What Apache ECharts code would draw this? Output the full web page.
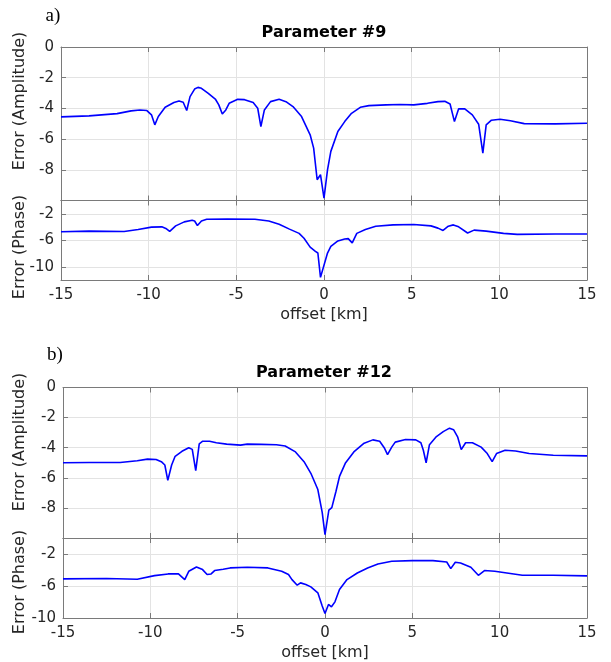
<!DOCTYPE html>
<html>
<head>
<meta charset="utf-8">
<script src="https://cdn.jsdelivr.net/npm/echarts@6/dist/echarts.min.js"></script>
<style>html,body{margin:0;padding:0;background:#fff}#c{width:611px;height:662px}</style>
</head>
<body>
<div id="c"></div>
<script>
// ---- data (offset km, error) ----
const xTicks = [-15, -10, -5, 0, 5, 10, 15];
const ampTicks = [0, -2, -4, -6, -8];
const phaseTicks = [-2, -6, -10];

const aAmpX = [-15,-13.4,-11.8,-11.0,-10.5,-10.1,-9.84,-9.65,-9.45,-9.06,-8.56,-8.27,-8.03,-7.83,-7.64,-7.38,-7.19,-6.99,-6.6,-6.2,-6.0,-5.8,-5.6,-5.41,-4.92,-4.53,-4.04,-3.78,-3.6,-3.4,-3.05,-2.56,-2.17,-1.77,-1.28,-0.79,-0.59,-0.39,-0.2,0,0.2,0.39,0.79,1.18,1.57,2.07,2.56,3.54,4.33,5.12,5.9,6.5,6.89,7.19,7.44,7.68,8.03,8.46,8.82,9.06,9.25,9.55,10.04,10.63,11.42,13.19,15];
const aAmpY = [-4.55,-4.49,-4.34,-4.16,-4.10,-4.14,-4.42,-5.07,-4.53,-3.93,-3.62,-3.52,-3.60,-4.14,-3.23,-2.74,-2.63,-2.69,-3.02,-3.39,-3.77,-4.36,-4.10,-3.67,-3.41,-3.43,-3.62,-3.99,-5.18,-4.10,-3.56,-3.41,-3.56,-3.88,-4.53,-5.72,-6.59,-8.65,-8.32,-9.84,-8.0,-6.8,-5.5,-4.86,-4.32,-3.93,-3.82,-3.77,-3.75,-3.77,-3.67,-3.56,-3.54,-3.71,-4.86,-4.03,-4.03,-4.42,-5.03,-6.91,-5.07,-4.77,-4.71,-4.81,-4.99,-5.01,-4.97];

const aPhaseX = [-15,-13.4,-11.4,-10.6,-9.84,-9.25,-9.02,-8.8,-8.46,-7.97,-7.52,-7.38,-7.22,-6.99,-6.69,-5.51,-3.94,-3.15,-2.56,-1.97,-1.42,-1.14,-0.79,-0.49,-0.35,-0.2,0.2,0.39,0.79,1.18,1.38,1.61,1.87,2.36,2.95,3.94,5.12,6.1,6.5,6.79,7.09,7.38,7.68,8.19,8.56,9.25,10.24,11.02,13.19,15];
const aPhaseY = [-4.72,-4.62,-4.67,-4.37,-4.02,-3.98,-4.22,-4.67,-3.83,-3.23,-2.99,-3.09,-3.78,-3.09,-2.84,-2.79,-2.84,-3.09,-3.58,-4.32,-4.96,-5.7,-7.04,-7.68,-7.93,-11.6,-7.93,-6.94,-6.1,-5.8,-5.75,-6.4,-4.96,-4.37,-3.88,-3.68,-3.63,-3.83,-4.17,-4.52,-3.88,-3.68,-3.98,-4.91,-4.47,-4.62,-4.96,-5.11,-5.06,-5.06];

const bAmpX = [-15,-13.5,-11.73,-10.75,-10.16,-9.67,-9.37,-9.17,-9.0,-8.78,-8.58,-8.19,-7.8,-7.6,-7.4,-7.2,-7.0,-6.61,-6.22,-5.63,-4.84,-4.45,-3.66,-2.78,-2.28,-1.69,-1.2,-0.81,-0.41,-0.16,0,0.22,0.39,0.63,0.83,1.16,1.65,2.24,2.74,3.13,3.39,3.58,3.82,4.02,4.61,5.2,5.49,5.63,5.79,5.98,6.38,6.77,7.13,7.36,7.6,7.8,8.05,8.44,8.94,9.29,9.57,9.82,10.31,10.91,11.69,13.07,15];
const bAmpY = [-5.0,-4.98,-4.98,-4.87,-4.76,-4.78,-4.93,-5.15,-6.17,-5.15,-4.57,-4.24,-4.0,-4.11,-5.52,-3.74,-3.57,-3.57,-3.67,-3.76,-3.83,-3.76,-3.78,-3.8,-3.89,-4.28,-4.93,-5.7,-6.78,-8.3,-9.78,-8.15,-7.98,-6.89,-5.91,-5.04,-4.28,-3.7,-3.48,-3.57,-4.0,-4.46,-3.96,-3.63,-3.46,-3.48,-3.67,-4.17,-5.0,-3.8,-3.26,-2.93,-2.7,-2.8,-3.3,-4.13,-3.67,-3.67,-3.96,-4.39,-4.93,-4.39,-4.17,-4.22,-4.39,-4.5,-4.54];

const bPhaseX = [-15,-12.5,-10.75,-9.76,-8.98,-8.39,-8.03,-7.8,-7.36,-7.01,-6.75,-6.52,-6.32,-5.83,-5.43,-4.45,-3.27,-2.48,-2.09,-1.89,-1.59,-1.4,-1.1,-0.81,-0.41,-0.16,0,0.2,0.37,0.57,0.83,1.26,1.85,2.44,3.03,3.82,5.0,6.18,6.97,7.2,7.46,7.76,8.35,8.78,9.13,9.72,10.51,11.3,13.07,15];
const bPhaseY = [-5.11,-5.07,-5.15,-4.7,-4.49,-4.49,-5.2,-4.16,-3.62,-3.95,-4.57,-4.49,-4.07,-3.91,-3.74,-3.66,-3.74,-4.16,-4.57,-5.2,-5.9,-5.61,-5.82,-6.11,-6.85,-8.51,-9.43,-8.31,-8.6,-7.98,-6.44,-5.2,-4.37,-3.74,-3.24,-2.91,-2.83,-2.83,-3.0,-3.83,-3.04,-3.12,-3.66,-4.66,-4.07,-4.16,-4.41,-4.66,-4.66,-4.74];

// ---- layout ----
const FONT = 'DejaVu Sans';
const panels = [
  {left: 61, top: 47,    height: 153.5, xs: aAmpX,   ys: aAmpY,   min: -10, max: 0, kind: 'amp'},
  {left: 61, top: 200.5, height: 79.5,  xs: aPhaseX, ys: aPhaseY, min: -12, max: 0, kind: 'phase'},
  {left: 63, top: 387.5, height: 150.5, xs: bAmpX,   ys: bAmpY,   min: -10, max: 0, kind: 'amp'},
  {left: 63, top: 538,   height: 80.5,  xs: bPhaseX, ys: bPhaseY, min: -10, max: 0, kind: 'phase'}
];
const axisColor = '#7a7a7a';
const gridColor = '#e3e3e3';
const labelColor = '#262626';

const grid = [], xAxis = [], yAxis = [], series = [];
panels.forEach((p, i) => {
  grid.push({left: p.left, right: 24, top: p.top, height: p.height});
  const showX = p.kind === 'phase';
  xAxis.push({
    type: 'value', gridIndex: i, position: 'bottom', min: -15, max: 15, interval: 5,
    axisLine: {show: true, onZero: false, lineStyle: {color: axisColor, width: 1}},
    axisTick: {show: true, inside: true, length: 5, lineStyle: {color: axisColor}},
    axisLabel: {show: showX, color: labelColor, fontFamily: FONT, fontSize: 15, margin: 8,
                formatter: v => String(v)},
    splitLine: {show: true, lineStyle: {color: gridColor, width: 1}},
    name: showX ? 'offset [km]' : '', nameLocation: 'middle', nameGap: 27,
    nameTextStyle: {color: labelColor, fontFamily: FONT, fontSize: 16}
  });
  xAxis.push({
    type: 'value', gridIndex: i, position: 'top', min: -15, max: 15, interval: 5,
    axisLine: {show: true, onZero: false, lineStyle: {color: axisColor, width: 1}},
    axisTick: {show: true, inside: true, length: 5, lineStyle: {color: axisColor}},
    axisLabel: {show: false}, splitLine: {show: false}
  });
  const ticks = p.kind === 'amp' ? null : phaseTicks;
  const yMain = {
    type: 'value', gridIndex: i, position: 'left', min: p.min, max: p.max,
    axisLine: {show: true, onZero: false, lineStyle: {color: axisColor, width: 1}},
    axisTick: {show: true, inside: true, length: 5, lineStyle: {color: axisColor}},
    axisLabel: {show: true, color: labelColor, fontFamily: FONT, fontSize: 15, margin: 7},
    splitLine: {show: true, lineStyle: {color: gridColor, width: 1}}
  };
  const ySide = {
    type: 'value', gridIndex: i, position: 'right', min: p.min, max: p.max,
    axisLine: {show: true, onZero: false, lineStyle: {color: axisColor, width: 1}},
    axisTick: {show: true, inside: true, length: 5, lineStyle: {color: axisColor}},
    axisLabel: {show: false}, splitLine: {show: false}
  };
  if (ticks) {
    yMain.axisTick.customValues = ticks;
    yMain.axisLabel.customValues = ticks;
    ySide.axisTick.customValues = ticks;
  } else {
    yMain.interval = 2;
    ySide.interval = 2;
    yMain.axisLabel.showMinLabel = false;
  }
  yAxis.push(yMain, ySide);
  series.push({
    type: 'line', xAxisIndex: 2 * i, yAxisIndex: 2 * i,
    data: p.xs.map((x, k) => [x, p.ys[k]]),
    showSymbol: false, symbol: 'none', smooth: false,
    lineStyle: {color: '#0000ff', width: 1.6}, color: '#0000ff',
    animation: false, clip: true
  });
});

const txt = (x, y, text, font, fill, extra) => Object.assign({
  type: 'text', x: x, y: y,
  style: {text: text, font: font, fill: fill, align: 'center', verticalAlign: 'middle'}
}, extra || {});
const rot = {rotation: Math.PI / 2};

const graphic = [
  txt(53, 16, 'a)', '19px "Liberation Serif"', '#000'),
  txt(55, 355, 'b)', '19px "Liberation Serif"', '#000'),
  txt(324, 33, 'Parameter #9', 'bold 16px "DejaVu Sans"', '#000'),
  txt(324, 373, 'Parameter #12', 'bold 16px "DejaVu Sans"', '#000'),
  txt(20, 101, 'Error (Amplitude)', '16px "DejaVu Sans"', labelColor, rot),
  txt(20, 247, 'Error (Phase)', '16px "DejaVu Sans"', labelColor, rot),
  txt(20, 442, 'Error (Amplitude)', '16px "DejaVu Sans"', labelColor, rot),
  txt(20, 582, 'Error (Phase)', '16px "DejaVu Sans"', labelColor, rot)
];

const chart = echarts.init(document.getElementById('c'), null, {renderer: 'canvas'});
chart.setOption({
  backgroundColor: '#fff',
  animation: false,
  grid: grid, xAxis: xAxis, yAxis: yAxis, series: series, graphic: graphic
});
</script>
</body>
</html>
